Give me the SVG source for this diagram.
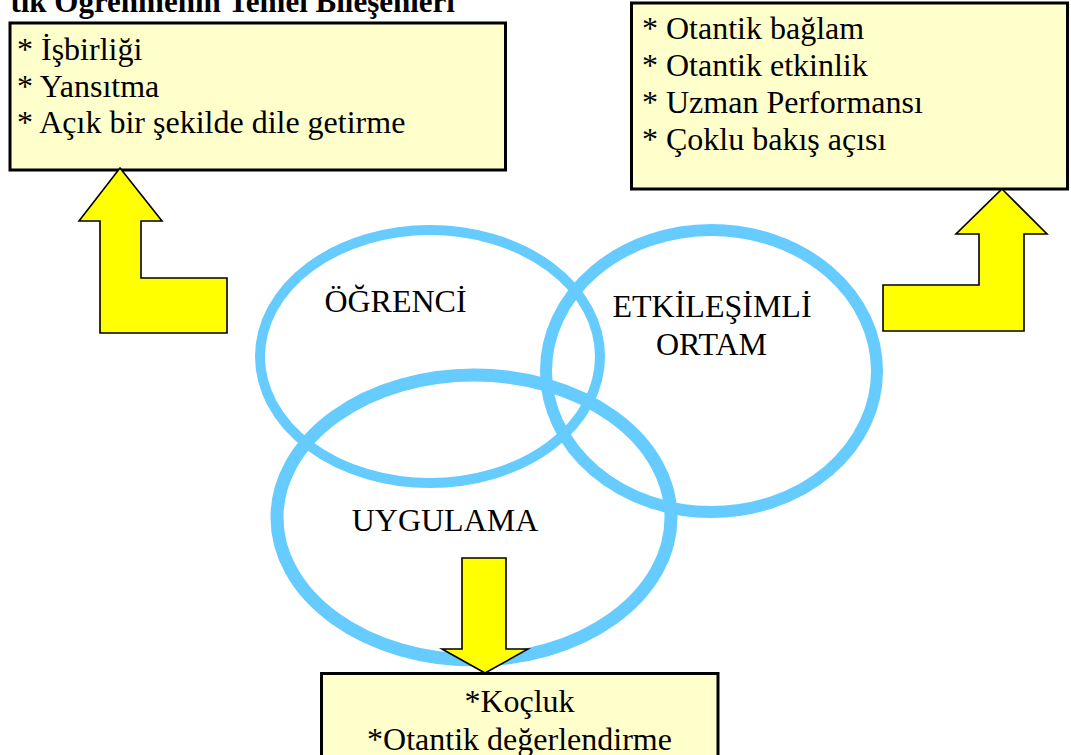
<svg xmlns="http://www.w3.org/2000/svg" width="1071" height="755" viewBox="0 0 1071 755">
<style>
text{font-family:'Liberation Serif','Times New Roman','DejaVu Serif',serif}
.t{font-size:32px;fill:#000}
.title{font-size:31px;font-weight:bold;fill:#000}
.box{fill:#FFFFCC;stroke:#000;stroke-width:3}
.ring{fill:none;stroke:#66CCFF}
.arrow{fill:#FFFF00;stroke:#000;stroke-width:1.6;stroke-linejoin:miter}
</style>
<rect width="1071" height="755" fill="#fff"/>
<text class="title" x="455" y="12" text-anchor="end" font-family="Liberation Serif, serif">tik Öğrenmenin Temel Bileşenleri</text>
<g id="ogrenci">
<ellipse class="ring" cx="430" cy="356.5" rx="170" ry="126.5" stroke-width="10"/>
<text class="t" x="395.5" y="312" text-anchor="middle" font-family="Liberation Serif, serif">ÖĞRENCİ</text>
</g>
<g id="etkilesimli-ortam">
<ellipse class="ring" cx="711.5" cy="371" rx="165.5" ry="141" stroke-width="12"/>
<text class="t" x="712" y="317" text-anchor="middle" font-family="Liberation Serif, serif">ETKİLEŞİMLİ</text>
<text class="t" x="711.5" y="355" text-anchor="middle" font-family="Liberation Serif, serif">ORTAM</text>
</g>
<g id="uygulama">
<ellipse class="ring" cx="474" cy="517.5" rx="197" ry="142.5" stroke-width="13"/>
<text class="t" x="445" y="531" text-anchor="middle" font-family="Liberation Serif, serif">UYGULAMA</text>
</g>
<g id="box-left">
<rect class="box" x="10" y="23" width="495.5" height="147"/>
<text class="t" x="17" y="60" font-family="Liberation Serif, serif">* İşbirliği</text>
<text class="t" x="17" y="97" font-family="Liberation Serif, serif">* Yansıtma</text>
<text class="t" x="17" y="133" font-family="Liberation Serif, serif">* Açık bir şekilde dile getirme</text>
</g>
<g id="box-right">
<rect class="box" x="631.5" y="3" width="436" height="186"/>
<text class="t" x="642" y="39" font-family="Liberation Serif, serif">* Otantik bağlam</text>
<text class="t" x="642" y="76" font-family="Liberation Serif, serif">* Otantik etkinlik</text>
<text class="t" x="642" y="113" font-family="Liberation Serif, serif">* Uzman Performansı</text>
<text class="t" x="642" y="150" font-family="Liberation Serif, serif">* Çoklu bakış açısı</text>
</g>
<g id="box-bottom">
<rect class="box" x="321.5" y="673.5" width="396.5" height="100"/>
<text class="t" x="519.5" y="712" text-anchor="middle" font-family="Liberation Serif, serif">*Koçluk</text>
<text class="t" x="519.5" y="750" text-anchor="middle" font-family="Liberation Serif, serif">*Otantik değerlendirme</text>
</g>
<g id="connectors">
<polygon class="arrow" points="120,168 162,221 141,221 141,278 227,278 227,333 100,333 100,221 79,221"/>
<polygon class="arrow" points="1002,189 1047,234 1024,234 1024,331 883,331 883,285 979,285 979,234 956,234"/>
<polygon class="arrow" points="462,558 506,558 506,649 528,649 485,673 442,649 462,649"/>
</g>
</svg>
